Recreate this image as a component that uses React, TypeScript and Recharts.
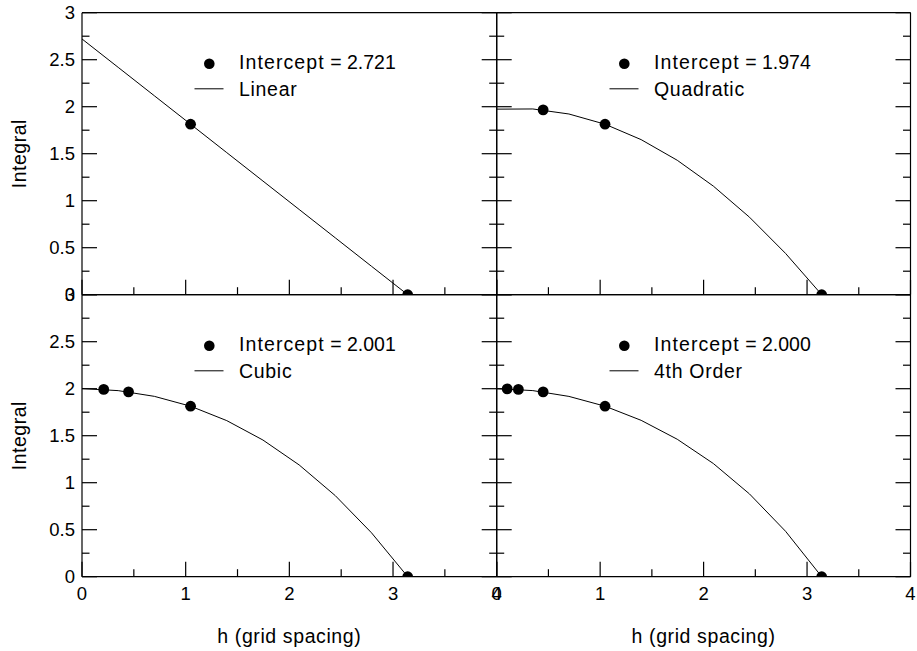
import React from 'react'
import { ComposedChart, Line, Scatter, XAxis, YAxis, Legend } from 'recharts'

// grid spacings h and trapezoid integrals
const hPoints = [3.1416, 1.0472, 0.4488, 0.2094, 0.1013]
const integralValues = [0, 1.8138, 1.9663, 1.9927, 1.9983]

// fitted curves, sampled where the polyline bends
const hFit = [0, 0.3491, 0.6981, 1.0472, 1.3963, 1.7453, 2.0944, 2.4435, 2.7925, 3.1416]
const linearFit = [2.7207, 2.4184, 2.1161, 1.8138, 1.5115, 1.2092, 0.9069, 0.6046, 0.3023, 0]
const quadraticFit = [1.9739, 1.9759, 1.9225, 1.8137, 1.6496, 1.43, 1.155, 0.8247, 0.439, 0]
const cubicFit = [2.0014, 1.9795, 1.9186, 1.8138, 1.6605, 1.4539, 1.1892, 0.8619, 0.467, 0]
const quarticFit = [2.0, 1.9797, 1.9181, 1.8138, 1.6634, 1.4622, 1.2039, 0.8807, 0.483, 0]

const fitNames = ['Linear', 'Quadratic', 'Cubic', '4th Order']
const intercepts = ['2.721', '1.974', '2.001', '2.000']

const xTicks = [0, 0.5, 1, 1.5, 2, 2.5, 3, 3.5, 4]
const yTicks = [0, 0.25, 0.5, 0.75, 1, 1.25, 1.5, 1.75, 2, 2.25, 2.5, 2.75, 3]

const fits = [linearFit, quadraticFit, cubicFit, quarticFit]

const W = 917
const H = 651
const FONT = '"Liberation Sans", Arial, Helvetica, sans-serif'
const FS = 18.5 // tick labels
const TS = 19.5 // legend + axis titles
const frame = { stroke: '#000', strokeWidth: 1.2 }

// plot boxes in page pixels
const boxes = [
  { left: 82, right: 496.7, top: 12.7, bottom: 294.7 },
  { left: 496.7, right: 910.5, top: 12.7, bottom: 294.7 },
  { left: 82, right: 496.7, top: 294.7, bottom: 576.7 },
  { left: 496.7, right: 910.5, top: 294.7, bottom: 576.7 },
]

const isMajorX = (v: number) => v % 1 === 0
const isMajorY = (v: number) => (v * 2) % 1 === 0

const BottomTick = (props: any) => {
  const { x, y, payload, showLabel } = props
  const major = isMajorX(payload.value)
  return (
    <g>
      <line x1={x} y1={y} x2={x} y2={y - (major ? 15 : 7.5)} stroke="#000" strokeWidth={1.2} />
      {showLabel && major && (
        <text x={x} y={y + 23.3} textAnchor="middle" fontSize={FS} fontFamily={FONT} fill="#000">
          {payload.value}
        </text>
      )}
    </g>
  )
}

const TopTick = (props: any) => {
  const { x, y, payload } = props
  const major = isMajorX(payload.value)
  return <line x1={x} y1={y} x2={x} y2={y + (major ? 15 : 7.5)} stroke="#000" strokeWidth={1.2} />
}

const LeftTick = (props: any) => {
  const { x, y, payload, showLabel } = props
  const major = isMajorY(payload.value)
  return (
    <g>
      <line x1={x} y1={y} x2={x + (major ? 15 : 7.5)} y2={y} stroke="#000" strokeWidth={1.2} />
      {showLabel && major && (
        <text x={x - 7} y={y + 6.7} textAnchor="end" fontSize={FS} fontFamily={FONT} fill="#000">
          {payload.value}
        </text>
      )}
    </g>
  )
}

const RightTick = (props: any) => {
  const { x, y, payload } = props
  const major = isMajorY(payload.value)
  return <line x1={x} y1={y} x2={x - (major ? 15 : 7.5)} y2={y} stroke="#000" strokeWidth={1.2} />
}

const LegendBox = ({ name, intercept }: { name: string; intercept: string }) => (
  <svg width={320} height={70} style={{ display: 'block' }}>
    <circle cx={22.3} cy={20.8} r={5.3} fill="#000" />
    <text x={52} y={26.3} fontSize={TS} fontFamily={FONT} fill="#000">
      <tspan letterSpacing={1.1}>Intercept</tspan>
      <tspan> = {intercept}</tspan>
    </text>
    <line x1={7.5} y1={45.8} x2={36.5} y2={45.8} stroke="#000" strokeWidth={1} />
    <text x={52} y={53.3} fontSize={TS} fontFamily={FONT} letterSpacing={0.7} fill="#000">
      {name}
    </text>
  </svg>
)

const Dot = (props: any) => <circle cx={props.cx} cy={props.cy} r={5.4} fill="#000" />

const Panel = ({ idx }: { idx: number }) => {
  const box = boxes[idx]
  const isLeft = idx % 2 === 0
  const isBottom = idx >= 2
  const points = hPoints.slice(0, idx + 2).map((h, i) => ({ h, v: integralValues[i] }))
  const curve = hFit.map((h, i) => ({ h, v: fits[idx][i] }))
  const midY = (box.top + box.bottom) / 2
  const midX = (box.left + box.right) / 2

  return (
    <div style={{ position: 'absolute', left: 0, top: 0 }}>
      <ComposedChart
        width={W}
        height={H}
        margin={{ top: box.top - 1, left: box.left - 1, right: W - box.right - 1, bottom: H - box.bottom - 1 }}
      >
        <XAxis
          xAxisId="b"
          dataKey="h"
          type="number"
          domain={[0, 4]}
          ticks={xTicks}
          interval={0}
          allowDataOverflow
          height={1}
          tickSize={0}
          tickMargin={0}
          tickLine={false}
          axisLine={frame}
          tick={(p: any) => <BottomTick {...p} showLabel={isBottom} />}
          label={
            isBottom
              ? () => (
                  <text x={midX} y={642.5} textAnchor="middle" fontSize={TS} fontFamily={FONT} letterSpacing={0.6} fill="#000">
                    h (grid spacing)
                  </text>
                )
              : undefined
          }
        />
        <XAxis
          xAxisId="t"
          orientation="top"
          type="number"
          domain={[0, 4]}
          ticks={xTicks}
          interval={0}
          allowDataOverflow
          height={1}
          tickSize={0}
          tickMargin={0}
          tickLine={false}
          axisLine={frame}
          tick={(p: any) => <TopTick {...p} />}
        />
        <YAxis
          yAxisId="l"
          dataKey="v"
          type="number"
          domain={[0, 3]}
          ticks={yTicks}
          interval={0}
          allowDataOverflow
          width={1}
          tickSize={0}
          tickMargin={0}
          tickLine={false}
          axisLine={frame}
          tick={(p: any) => <LeftTick {...p} showLabel={isLeft} />}
          label={
            isLeft
              ? () => (
                  <text
                    x={26.5}
                    y={midY}
                    transform={`rotate(-90 26.5 ${midY})`}
                    textAnchor="middle"
                    fontSize={TS}
                    fontFamily={FONT}
                    letterSpacing={0.5}
                    fill="#000"
                  >
                    Integral
                  </text>
                )
              : undefined
          }
        />
        <YAxis
          yAxisId="r"
          orientation="right"
          type="number"
          domain={[0, 3]}
          ticks={yTicks}
          interval={0}
          allowDataOverflow
          width={1}
          tickSize={0}
          tickMargin={0}
          tickLine={false}
          axisLine={frame}
          tick={(p: any) => <RightTick {...p} />}
        />
        <Legend
          layout="horizontal"
          verticalAlign="middle"
          align="center"
          wrapperStyle={{ left: box.left + 105, top: box.top + 30, width: 320, height: 70 }}
          content={() => <LegendBox name={fitNames[idx]} intercept={intercepts[idx]} />}
        />
        <Line
          xAxisId="b"
          yAxisId="l"
          data={curve}
          dataKey="v"
          type="linear"
          stroke="#000"
          strokeWidth={1}
          dot={false}
          isAnimationActive={false}
        />
        <Scatter xAxisId="b" yAxisId="l" data={points} dataKey="v" shape={Dot} isAnimationActive={false} />
      </ComposedChart>
    </div>
  )
}

export default function App() {
  // fixed to the viewport so the figure can use the full 917x651 page
  return (
    <div style={{ position: 'fixed', left: 0, top: 0, width: W, height: H, background: '#fff' }}>
      {[0, 1, 2, 3].map((i) => (
        <Panel key={i} idx={i} />
      ))}
    </div>
  )
}
